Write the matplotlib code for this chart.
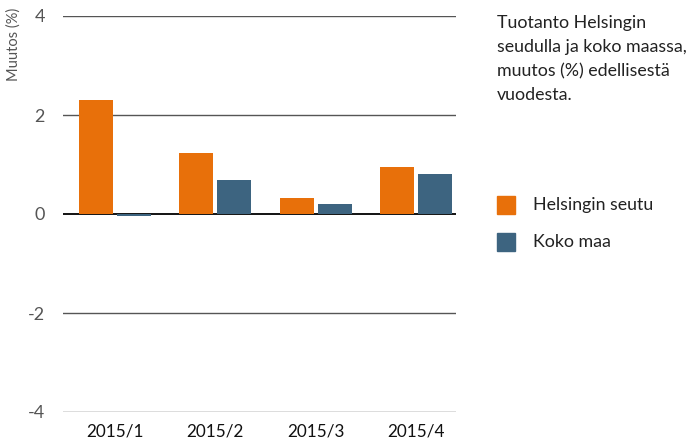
import matplotlib
matplotlib.use("Agg")
import matplotlib.pyplot as plt
from matplotlib.patches import Rectangle

plt.rcParams['font.family'] = ['Lato', 'DejaVu Sans']

categories = ["2015/1", "2015/2", "2015/3", "2015/4"]
helsinki = [2.30, 1.24, 0.32, 0.95]
koko_maa = [-0.05, 0.69, 0.20, 0.81]
yticks = [-4, -2, 0, 2, 4]
series_names = ["Helsingin seutu", "Koko maa"]
colors = ["#E8700A", "#3D6480"]
title = "Tuotanto Helsingin\nseudulla ja koko maassa,\nmuutos (%) edellisestä\nvuodesta."

W, H = 687, 441
fig = plt.figure(figsize=(W/100, H/100), dpi=100)
ax = fig.add_axes([63/W, 1-412/H, (456-63)/W, (412-16)/H])

x = list(range(len(categories)))
bw = 0.34
off = 0.19
ax.bar([i - off for i in x], helsinki, width=bw, color=colors[0], zorder=3)
ax.bar([i + off for i in x], koko_maa, width=bw, color=colors[1], zorder=3)

ax.set_xlim(-0.52, 3.40)
ax.set_ylim(-4, 4)
for y in yticks:
    ax.axhline(y, color="black" if y == 0 else "#555555", lw=1.3 if y == 0 else 1.0, zorder=2 if y == 0 else 1)

for s in ax.spines.values():
    s.set_visible(False)
ax.set_yticks(yticks)
ax.set_yticklabels([str(v) for v in yticks], color="#555555", fontsize=13)
ax.set_xticks(x)
ax.set_xticklabels(categories, fontsize=12.3, color="#111111")
ax.tick_params(axis='y', length=0, pad=13)
ax.tick_params(axis='x', length=0, pad=8.5)

fig.text(14/W, 1-8/H, "Muutos (%)", rotation=90, ha="center", va="top", fontsize=10.5, color="#555555")

fig.text(497/W, 1-15/H, title, ha="left", va="top", fontsize=12.8, color="#222222", linespacing=1.62)

for k, name in enumerate(series_names):
    ytop = 196 + k*37
    fig.patches.append(Rectangle((497/W, 1-(ytop+18)/H), 18/W, 18/H, transform=fig.transFigure, color=colors[k]))
    fig.text(533/W, 1-(ytop+9)/H, name, ha="left", va="center", fontsize=12.8, color="#222222")

fig.savefig("out.png", dpi=100)
